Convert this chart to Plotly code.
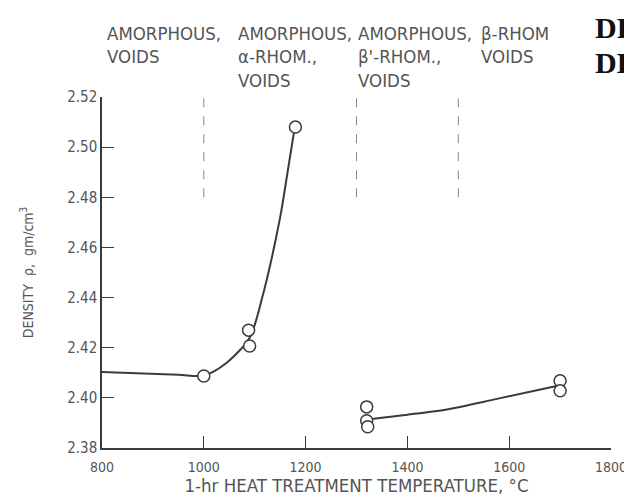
import plotly.graph_objects as go

# Measured data points (temperature °C, density g/cm^3)
pt_temp = [1000, 1088, 1090, 1180, 1320, 1320, 1322, 1700, 1700]
pt_dens = [2.4087, 2.4270, 2.4207, 2.5080, 2.3964, 2.3909, 2.3885, 2.4068, 2.4028]

# Hand-drawn trend curves
curve1_temp = [800, 950, 1000, 1045, 1090, 1114, 1150, 1163, 1178]
curve1_dens = [2.4103, 2.4092, 2.4089, 2.4140, 2.4240, 2.4394, 2.4720, 2.4880, 2.5070]
curve2_temp = [1325, 1400, 1480, 1576, 1700]
curve2_dens = [2.3915, 2.3933, 2.3955, 2.3996, 2.4050]

# Phase boundaries (dashed)
boundary_temp = [1000, 1300, 1500]

# Phase labels (column x in data units, lines)
phase_x = [806, 1063, 1299, 1540]
phase_lines = [
    ["AMORPHOUS,", "VOIDS"],
    ["AMORPHOUS,", "α-RHOM.,", "VOIDS"],
    ["AMORPHOUS,", "β'-RHOM.,", "VOIDS"],
    ["β-RHOM", "VOIDS"],
]

x_ticks = [800, 1000, 1200, 1400, 1600, 1800]
y_ticks = [2.38, 2.40, 2.42, 2.44, 2.46, 2.48, 2.50, 2.52]
y_ticktext = ["2.38", "2.40", "2.42", "2.44", "2.46", "2.48", "2.50", "2.52"]

FONT = "DejaVu Sans Condensed, DejaVu Sans, sans-serif"
INK = "#3a3a3a"
TXT = "#555555"

fig = go.Figure()
fig.add_trace(go.Scatter(x=curve1_temp, y=curve1_dens, mode="lines",
                         line=dict(color=INK, width=2, shape="spline", smoothing=0.8),
                         hoverinfo="skip", showlegend=False))
fig.add_trace(go.Scatter(x=curve2_temp, y=curve2_dens, mode="lines",
                         line=dict(color=INK, width=2, shape="spline", smoothing=0.8),
                         hoverinfo="skip", showlegend=False))
fig.add_trace(go.Scatter(x=pt_temp, y=pt_dens, mode="markers",
                         marker=dict(symbol="circle", size=12, color="white",
                                     line=dict(color=INK, width=1.5)),
                         showlegend=False))

for bx in boundary_temp:
    fig.add_shape(type="line", xref="x", yref="y", x0=bx, x1=bx, y0=2.48, y1=2.52,
                  line=dict(color="#888888", width=1, dash="dash"))

row_y = [1.182, 1.114, 1.048]
for cx, lines in zip(phase_x, phase_lines):
    for i, t in enumerate(lines):
        fig.add_annotation(x=cx, xref="x", y=row_y[i], yref="paper", text=t,
                           showarrow=False, xanchor="left", yanchor="middle",
                           font=dict(family=FONT, size=18.5, color=TXT))

# Partially cut-off stamp letters at top right
fig.add_annotation(x=0.965, xref="paper", y=1.197, yref="paper", text="<b>DR</b>",
                   showarrow=False, xanchor="left", yanchor="middle",
                   font=dict(family="Liberation Serif, serif", size=30, color="#111111"))
fig.add_annotation(x=0.965, xref="paper", y=1.097, yref="paper", text="<b>DE</b>",
                   showarrow=False, xanchor="left", yanchor="middle",
                   font=dict(family="Liberation Serif, serif", size=30, color="#111111"))

# The page body has an 8px margin, so the figure is 8px smaller and shifted.
fig.update_layout(
    width=624, height=493,
    margin=dict(l=94, r=21, t=89, b=53),
    paper_bgcolor="white", plot_bgcolor="white",
    font=dict(family=FONT, color=TXT),
)
fig.update_xaxes(range=[800, 1800], tickvals=x_ticks, ticks="inside", ticklen=12,
                 tickcolor=INK, tickwidth=1, showline=True, linecolor=INK, linewidth=1.5,
                 showgrid=False, zeroline=False, ticklabelstandoff=5, automargin=False,
                 tickfont=dict(family=FONT, size=14, color=TXT),
                 title=dict(text="1-hr HEAT TREATMENT TEMPERATURE, °C", standoff=6,
                            font=dict(family=FONT, size=18.5, color=TXT)))
fig.update_yaxes(range=[2.38, 2.52], tickvals=y_ticks, ticktext=y_ticktext,
                 ticks="inside", ticklen=12, automargin=False,
                 tickcolor=INK, tickwidth=1, showline=True, linecolor=INK, linewidth=1.5,
                 showgrid=False, zeroline=False,
                 tickfont=dict(family=FONT, size=15, color=TXT),
                 title=dict(text="DENSITY  ρ,  gm/cm<sup>3</sup>", standoff=30,
                            font=dict(family=FONT, size=14, color=TXT)))

fig.write_html("out.html")
